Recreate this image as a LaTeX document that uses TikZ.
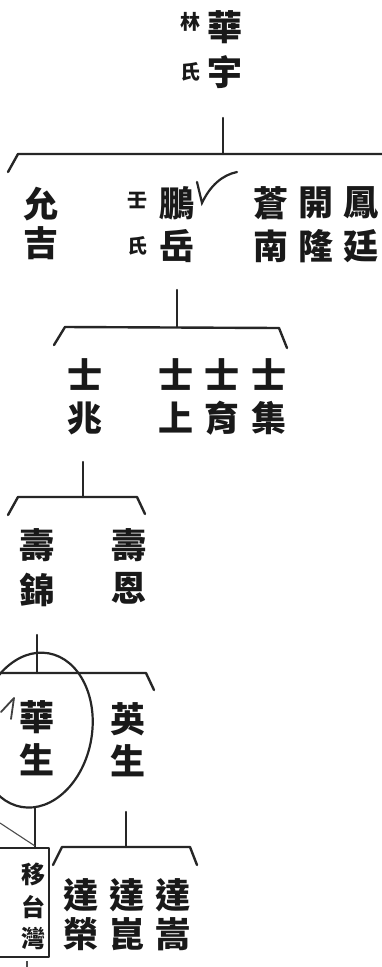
\documentclass[tikz,border=0pt]{standalone}
\usepackage{fontspec}
\newfontfamily\cjk{Noto Sans CJK TC}
\begin{document}
\begin{tikzpicture}[x=1pt,y=-1pt,
  big/.style={font=\cjk\fontsize{35}{35}\selectfont\bfseries, inner sep=0pt, text=black!90},
  sml/.style={font=\cjk\fontsize{20}{20}\selectfont\bfseries, inner sep=0pt, text=black!90},
  boxch/.style={font=\cjk\fontsize{24}{24}\selectfont\bfseries, inner sep=0pt, text=black!90},
  ln/.style={line width=2.4pt, draw=black!85, line cap=round, line join=round},
  thinln/.style={line width=1.1pt, draw=black!70}]
\path[use as bounding box] (0,0) rectangle (382,967);
\clip (0,0) rectangle (382,967);
\fill[white] (0,0) rectangle (382,967);

% generation 1
\node[sml] (lin) at (190,22) {林};
\node[sml] (shi1) at (190,72) {氏};
\node[big] (hua1) at (225,27) {華};
\node[big] (yu) at (225,72) {宇};

\coordinate (g1t) at (223,118);
\coordinate (g1b) at (223,154);
\coordinate (g1l) at (18,154);
\coordinate (g1lt) at (8,172);
\coordinate (g1r) at (382,154);
\draw[ln] (g1t) -- (g1b);
\draw[ln] (g1lt) -- (g1l) -- (g1r);

% generation 2
\node[big] (yun) at (41,204) {允};
\node[big] (ji) at (41,243) {吉};
\node[sml] (ren) at (137,200) {壬};
\node[sml] (shi2) at (137,246) {氏};
\node[big] (peng) at (177,203) {鵬};
\node[big] (yue) at (177,246) {岳};
\node[big] (cang) at (271,203) {蒼};
\node[big] (nan) at (271,246) {南};
\node[big] (kai) at (316,203) {開};
\node[big] (long) at (316,246) {隆};
\node[big] (feng) at (361,203) {鳳};
\node[big] (ting) at (361,246) {廷};
\coordinate (ck1) at (197,182);
\coordinate (ck2) at (202,203);
\coordinate (ck3) at (237,172);
\draw[line width=2.2pt, draw=black!85, line cap=round] (ck1) -- (ck2) .. controls (210,186) and (222,175) .. (ck3);

\coordinate (g2t) at (177,290);
\coordinate (g2b) at (177,327);
\coordinate (g2l) at (65,327);
\coordinate (g2lt) at (54,345);
\coordinate (g2r) at (279,328);
\coordinate (g2rt) at (287,348);
\draw[ln] (g2t) -- (g2b);
\draw[ln] (g2lt) -- (g2l) -- (g2r) -- (g2rt);

% generation 3
\node[big] (shiA) at (85,375) {士};
\node[big] (zhao) at (85,418) {兆};
\node[big] (shiB) at (176,375) {士};
\node[big] (shang) at (176,418) {上};
\node[big] (shiC) at (222,375) {士};
\node[big] (yu2) at (222,418) {育};
\node[big] (shiD) at (269,375) {士};
\node[big] (ji2) at (269,418) {集};

\coordinate (g3t) at (83,462);
\coordinate (g3b) at (83,497);
\coordinate (g3l) at (18,497);
\coordinate (g3lt) at (8,515);
\coordinate (g3r) at (137,497);
\coordinate (g3rt) at (145,514);
\draw[ln] (g3t) -- (g3b);
\draw[ln] (g3lt) -- (g3l) -- (g3r) -- (g3rt);

% generation 4
\node[big] (shouA) at (37,545) {壽};
\node[big] (jin) at (37,590) {錦};
\node[big] (shouB) at (129,545) {壽};
\node[big] (en) at (129,588) {恩};

\coordinate (g4t) at (37,635);
\coordinate (g4b) at (37,673);
\coordinate (g4l) at (0,673);
\coordinate (g4r) at (146,673);
\coordinate (g4rt) at (154,690);
\draw[ln] (g4t) -- (g4b);
\draw[ln] (g4l) -- (g4r) -- (g4rt);

% generation 5
\node[big] (hua2) at (37,717) {華};
\node[big] (sheng1) at (37,760) {生};
\node[big] (ying) at (128,719) {英};
\node[big] (sheng2) at (128,761) {生};
\coordinate (ec) at (35,730);
\draw[ln, line width=2.2pt, rotate around={-10:(ec)}] (ec) ellipse [x radius=57pt, y radius=78pt];
\coordinate (m1) at (1,712);
\coordinate (m2) at (14,698);
\coordinate (m3) at (11,719);
\draw[line width=1.8pt, draw=black!75, line cap=round, line join=round] (m1) -- (m2) -- (m3);

% box
\coordinate (bxa) at (-5,848);
\coordinate (bxb) at (49,957);
\draw[ln, line width=2.2pt] (bxa) rectangle (bxb);
\node[boxch] (yi) at (33,874) {移};
\node[boxch] (tai) at (33,907) {台};
\node[boxch] (wan) at (33,938) {灣};
\coordinate (g5t) at (35,808);
\coordinate (g5b) at (35,848);
\draw[ln, line width=2pt] (g5t) -- (g5b);
\coordinate (dg1) at (0,823);
\coordinate (dg2) at (35,846);
\draw[thinln] (dg1) -- (dg2);
\coordinate (tk1) at (27,961);
\coordinate (tk2) at (27,967);
\draw[thinln, line width=1.4pt] (tk1) -- (tk2);

\coordinate (g6t) at (126,812);
\coordinate (g6b) at (126,847);
\coordinate (g6l) at (62,847);
\coordinate (g6lt) at (53,865);
\coordinate (g6r) at (190,847);
\coordinate (g6rt) at (197,865);
\draw[ln] (g6t) -- (g6b);
\draw[ln] (g6lt) -- (g6l) -- (g6r) -- (g6rt);

% generation 6
\node[big] (daA) at (81,895) {達};
\node[big] (rong) at (81,934) {榮};
\node[big] (daB) at (127,895) {達};
\node[big] (kun) at (127,934) {崑};
\node[big] (daC) at (173,895) {達};
\node[big] (song) at (173,934) {嵩};
\end{tikzpicture}
\end{document}
